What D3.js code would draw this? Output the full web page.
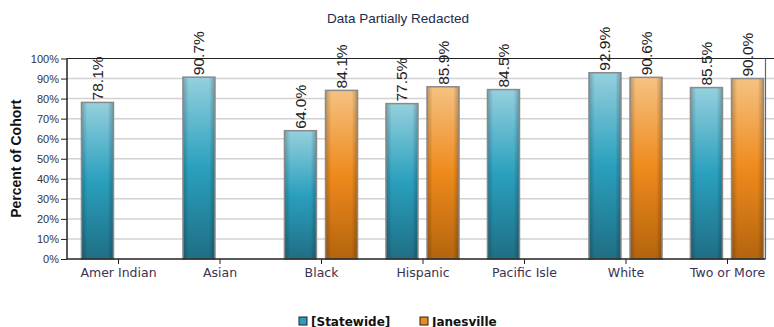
<!DOCTYPE html>
<html>
<head>
<meta charset="utf-8">
<script src="https://cdn.jsdelivr.net/npm/d3@7"></script>
<style>
  html, body { margin: 0; padding: 0; background: #fff; }
  svg { display: block; }
</style>
</head>
<body>
<svg id="chart" width="774" height="327"></svg>
<script>
// Graduation rates by group
const categories = ["Amer Indian", "Asian", "Black", "Hispanic", "Pacific Isle", "White", "Two or More"];
const seriesNames = ["[Statewide]", "Janesville"];
const statewide = [78.1, 90.7, 64.0, 77.5, 84.5, 92.9, 85.5];
const janesville = [null, null, 84.1, 85.9, null, 90.6, 90.0];
const yTicks = [0, 10, 20, 30, 40, 50, 60, 70, 80, 90, 100];

const svg = d3.select("#chart");
const plotLeft = 67, plotTop = 58.5, plotBottom = 259, frameRight = 765.5, gridRight = 774;

const x0 = d3.scaleBand().domain(categories)
  .range([67.25, 777.75]).paddingInner(0.28).paddingOuter(0.14);
const x1 = d3.scaleBand().domain(seriesNames)
  .range([0, x0.bandwidth()]).paddingInner(0.22);
const y = d3.scaleLinear().domain([0, 100]).range([plotBottom, plotTop]);

// gradients for bar fills
const defs = svg.append("defs");
function vGrad(id, stops) {
  const g = defs.append("linearGradient").attr("id", id)
    .attr("x1", 0).attr("y1", 0).attr("x2", 0).attr("y2", 1);
  stops.forEach(([o, c]) => g.append("stop").attr("offset", o).attr("stop-color", c));
}
vGrad("tealGrad", [[0, "#95d0de"], [0.5, "#2aa0be"], [1, "#1f6e84"]]);
vGrad("orangeGrad", [[0, "#f5c282"], [0.5, "#ef8a1c"], [1, "#b4640e"]]);
const edge = defs.append("linearGradient").attr("id", "edgeShade")
  .attr("x1", 0).attr("y1", 0).attr("x2", 1).attr("y2", 0);
[[0, 0.22], [0.18, 0.0], [0.82, 0.0], [1, 0.25]].forEach(([o, a]) =>
  edge.append("stop").attr("offset", o).attr("stop-color", "#000").attr("stop-opacity", a));

// title
svg.append("text").attr("x", 398).attr("y", 23).attr("text-anchor", "middle")
  .attr("font-family", "Liberation Sans, Arial, sans-serif").attr("font-size", 13.5)
  .attr("fill", "#1c2b4b").text("Data Partially Redacted");

// gridlines
svg.append("g").selectAll("line").data(yTicks.filter(d => d > 0 && d < 100)).join("line")
  .attr("x1", plotLeft).attr("x2", gridRight)
  .attr("y1", d => y(d)).attr("y2", d => y(d))
  .attr("stroke", "#d2d2d2").attr("stroke-width", 1.5);
svg.append("line").attr("x1", plotLeft).attr("x2", gridRight)
  .attr("y1", y(100)).attr("y2", y(100)).attr("stroke", "#222").attr("stroke-width", 1.2);
svg.append("line").attr("x1", frameRight).attr("x2", frameRight)
  .attr("y1", y(100)).attr("y2", plotBottom).attr("stroke", "#666").attr("stroke-width", 1.2);

// bars
const rows = categories.map((c, i) => ({ cat: c, vals: [statewide[i], janesville[i]] }));
const groups = svg.append("g").selectAll("g").data(rows).join("g")
  .attr("transform", d => `translate(${x0(d.cat)},0)`);
const barData = d => d.vals.map((v, j) => ({ v, s: seriesNames[j], j })).filter(b => b.v != null);
groups.selectAll("rect.bar").data(barData).join("rect").attr("class", "bar")
  .attr("x", b => x1(b.s)).attr("width", x1.bandwidth())
  .attr("y", b => y(b.v)).attr("height", b => plotBottom - y(b.v))
  .attr("fill", b => b.j === 0 ? "url(#tealGrad)" : "url(#orangeGrad)");
groups.selectAll("rect.shade").data(barData).join("rect").attr("class", "shade")
  .attr("x", b => x1(b.s)).attr("width", x1.bandwidth())
  .attr("y", b => y(b.v)).attr("height", b => plotBottom - y(b.v))
  .attr("fill", "url(#edgeShade)")
  .attr("stroke", "#8a8a8a").attr("stroke-width", 1.5);

// value labels
groups.selectAll("text.val").data(barData).join("text").attr("class", "val")
  .attr("transform", b => `translate(${x1(b.s) + x1.bandwidth() / 2 + 5.5},${y(b.v) - 2}) rotate(-90)`)
  .attr("font-family", "Liberation Sans, Arial, sans-serif").attr("font-size", 15.5)
  .attr("fill", "#222").text(b => b.v.toFixed(1) + "%");

// y axis
const yAxis = svg.append("g").attr("transform", `translate(${plotLeft},0)`)
  .call(d3.axisLeft(y).tickValues(yTicks).tickFormat(d => d + "%").tickSize(6).tickPadding(2));
yAxis.select(".domain").attr("stroke", "#222").attr("stroke-width", 1.5).attr("d", `M0,${y(100)}V${plotBottom}`);
yAxis.selectAll(".tick line").attr("stroke", "#222");
yAxis.selectAll("text").attr("font-family", "Liberation Sans, Arial, sans-serif")
  .attr("font-size", 11).attr("fill", "#333");

// x axis
const xPoints = d3.scalePoint().domain(categories)
  .range([x0(categories[0]) + x0.bandwidth() / 2, x0(categories[6]) + x0.bandwidth() / 2]);
const xAxis = svg.append("g").attr("transform", `translate(0,${plotBottom})`)
  .call(d3.axisBottom(xPoints).tickSize(5).tickPadding(4));
xAxis.select(".domain").attr("stroke", "#222").attr("stroke-width", 1.5).attr("d", `M${plotLeft},0H${frameRight}`);
xAxis.selectAll(".tick line").attr("stroke", "#222");
xAxis.selectAll("text").attr("font-family", "DejaVu Sans, Verdana, sans-serif")
  .attr("font-size", 12.5).attr("fill", "#3a3350").attr("dy", "0.72em").attr("y", 9);

// y axis title
svg.append("text").attr("transform", `translate(21,${(plotTop + plotBottom) / 2}) rotate(-90)`)
  .attr("text-anchor", "middle").attr("font-family", "Liberation Sans, Arial, sans-serif")
  .attr("font-size", 14).attr("font-weight", "bold").attr("fill", "#111").text("Percent of Cohort");

// legend
const legendColors = ["#2a9fbd", "#ef8a1c"];
const legendX = [299, 420];
const lg = svg.append("g").selectAll("g").data(seriesNames).join("g")
  .attr("transform", (d, i) => `translate(${legendX[i]},317)`);
lg.append("rect").attr("width", 8).attr("height", 8)
  .attr("fill", (d, i) => legendColors[i]).attr("stroke", "#222").attr("stroke-width", 1);
lg.append("text").attr("x", 12).attr("y", 8.5)
  .attr("font-family", "DejaVu Sans, Verdana, sans-serif").attr("font-size", 12)
  .attr("font-weight", "bold").attr("fill", "#111").text(d => d);
</script>
</body>
</html>
